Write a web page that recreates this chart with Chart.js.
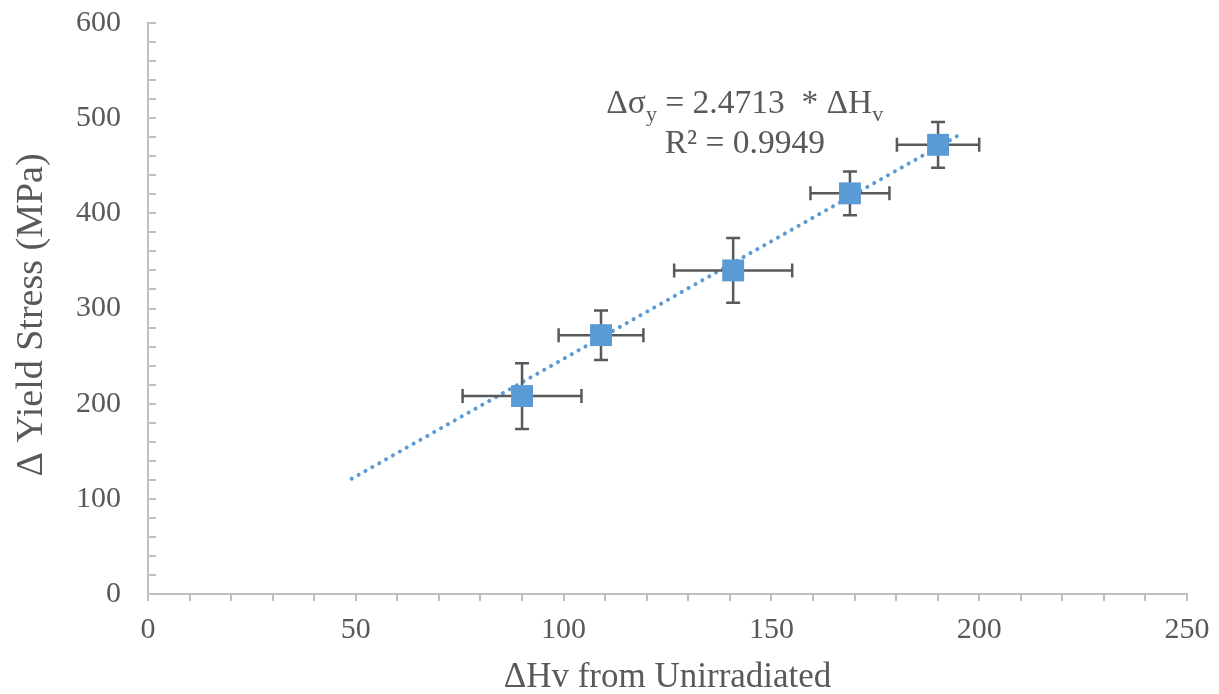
<!DOCTYPE html>
<html>
<head>
<meta charset="utf-8">
<title>Yield stress vs hardness</title>
<script src="https://cdn.jsdelivr.net/npm/chart.js@4.4.0/dist/chart.umd.min.js"></script>
<style>
  html, body { margin: 0; padding: 0; background: #fff; }
  #wrap { width: 1219px; height: 694px; }
</style>
</head>
<body>
<div id="wrap"><canvas id="chart"></canvas></div>
<script>
// Hardness change (x) against yield stress change (y), with error in both
const hvDelta = [90.0, 109.0, 140.8, 168.9, 190.1];
const hvErr   = [14.3, 10.2, 14.2, 9.5, 9.9];
const ysDelta = [208, 272, 340, 421, 472];
const ysErr   = [34.6, 26, 34, 23, 24];

// zero-intercept linear fit
const fitSlope = 2.4713;
const fitR2 = '0.9949';
const fitRange = [49, 196];

const xTitle = '\u0394Hv from Unirradiated';
const yTitle = '\u0394 Yield Stress (MPa)';

const GREY_TEXT = '#595959';
const AXIS = '#bfbfbf';
const BLUE = '#5b9bd5';
const SERIF = '"Liberation Serif", "Times New Roman", serif';

const points = hvDelta.map((x, i) => ({ x, y: ysDelta[i] }));
const fitLine = fitRange.map(x => ({ x, y: fitSlope * x }));

// error bars sit under the markers, above the trend line
const errorBars = {
  id: 'errorBars',
  beforeDatasetDraw(chart, args) {
    if (args.index !== 1) return;
    const { ctx, scales: { x, y } } = chart;
    const cap = 7;
    ctx.save();
    ctx.strokeStyle = '#595959';
    ctx.lineWidth = 2.5;
    ctx.beginPath();
    hvDelta.forEach((hv, i) => {
      const px = x.getPixelForValue(hv);
      const py = y.getPixelForValue(ysDelta[i]);
      const x0 = x.getPixelForValue(hv - hvErr[i]);
      const x1 = x.getPixelForValue(hv + hvErr[i]);
      const y0 = y.getPixelForValue(ysDelta[i] - ysErr[i]);
      const y1 = y.getPixelForValue(ysDelta[i] + ysErr[i]);
      ctx.moveTo(x0, py); ctx.lineTo(x1, py);
      ctx.moveTo(x0, py - cap); ctx.lineTo(x0, py + cap);
      ctx.moveTo(x1, py - cap); ctx.lineTo(x1, py + cap);
      ctx.moveTo(px, y0); ctx.lineTo(px, y1);
      ctx.moveTo(px - cap, y0); ctx.lineTo(px + cap, y0);
      ctx.moveTo(px - cap, y1); ctx.lineTo(px + cap, y1);
    });
    ctx.stroke();
    ctx.restore();
  }
};

// minor/major tick marks: y inside the plot, x hanging below the axis
const tickMarks = {
  id: 'tickMarks',
  afterDraw(chart) {
    const { ctx, scales: { x, y }, chartArea: a } = chart;
    ctx.save();
    ctx.strokeStyle = AXIS;
    ctx.lineWidth = 2;
    ctx.beginPath();
    for (let v = y.min; v <= y.max; v += 20) {
      const py = Math.round(y.getPixelForValue(v));
      ctx.moveTo(a.left, py); ctx.lineTo(a.left + 8, py);
    }
    for (let v = x.min; v <= x.max; v += 10) {
      const px = Math.round(x.getPixelForValue(v));
      ctx.moveTo(px, a.bottom); ctx.lineTo(px, a.bottom + 7);
    }
    ctx.stroke();
    ctx.restore();
  }
};

// axis titles and the fit equation
const labels = {
  id: 'labels',
  afterDraw(chart) {
    const { ctx, scales: { x, y }, chartArea: a } = chart;
    ctx.save();
    ctx.fillStyle = GREY_TEXT;
    ctx.textAlign = 'center';

    ctx.font = '35px ' + SERIF;
    ctx.textBaseline = 'alphabetic';
    ctx.fillText(xTitle, (a.left + a.right) / 2, 687);

    ctx.save();
    ctx.font = '38px ' + SERIF;
    ctx.translate(32, 315);
    ctx.rotate(-Math.PI / 2);
    ctx.textBaseline = 'middle';
    ctx.fillText(yTitle, 0, 0);
    ctx.restore();

    const big = '33.5px ' + SERIF;
    const small = '22px ' + SERIF;
    const line1 = [
      { t: '\u0394\u03c3', f: big, dy: 0 },
      { t: 'y', f: small, dy: 8 },
      { t: ' = 2.4713  * \u0394H', f: big, dy: 0 },
      { t: 'v', f: small, dy: 8 }
    ];
    const cx = x.getPixelForValue(143.6);
    const base1 = y.getPixelForValue(505);
    ctx.textAlign = 'left';
    let w = 0;
    line1.forEach(p => { ctx.font = p.f; w += ctx.measureText(p.t).width; });
    let px = cx - w / 2;
    line1.forEach(p => {
      ctx.font = p.f;
      ctx.fillText(p.t, px, base1 + p.dy);
      px += ctx.measureText(p.t).width;
    });

    ctx.font = big;
    ctx.textAlign = 'center';
    ctx.fillText('R\u00b2 = ' + fitR2, cx, base1 + 40);
    ctx.restore();
  }
};

new Chart(document.getElementById('chart'), {
  type: 'scatter',
  data: {
    datasets: [
      {
        label: 'Linear fit',
        data: fitLine,
        showLine: true,
        borderColor: BLUE,
        borderWidth: 4,
        borderDash: [0.1, 7.8],
        borderCapStyle: 'round',
        pointRadius: 0,
        order: 2
      },
      {
        label: '\u0394 Yield Stress',
        data: points,
        pointStyle: 'rect',
        pointRadius: 15.5,
        pointBackgroundColor: BLUE,
        pointBorderWidth: 0,
        order: 1
      }
    ]
  },
  options: {
    responsive: true,
    maintainAspectRatio: false,
    animation: false,
    layout: { padding: { top: 23, right: 32, left: 0, bottom: 0 } },
    plugins: { legend: { display: false }, tooltip: { enabled: false } },
    scales: {
      x: {
        type: 'linear',
        min: 0, max: 250,
        ticks: { stepSize: 50, padding: 18, color: GREY_TEXT, font: { family: SERIF, size: 30 } },
        grid: { display: false, drawTicks: false },
        border: { display: true, color: AXIS, width: 2 },
        afterFit(scale) {
          scale.height = 100;
          scale.paddingLeft = 0;
          scale.paddingRight = 0;
        }
      },
      y: {
        type: 'linear',
        min: 0, max: 600,
        ticks: { stepSize: 100, padding: 27, color: GREY_TEXT, font: { family: SERIF, size: 30 } },
        grid: { display: false, drawTicks: false },
        border: { display: true, color: AXIS, width: 2 },
        afterFit(scale) {
          scale.width = 148;
          scale.paddingTop = 0;
          scale.paddingBottom = 0;
        }
      }
    }
  },
  plugins: [errorBars, tickMarks, labels]
});
</script>
</body>
</html>
